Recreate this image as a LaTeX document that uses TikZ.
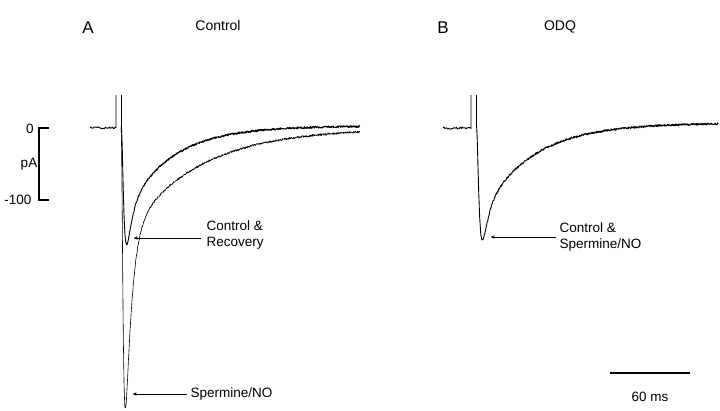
\documentclass[tikz,border=0pt]{standalone}
\usepackage{fontspec}
\setmainfont{Liberation Sans}
\usetikzlibrary{arrows}

\begin{document}
\begin{tikzpicture}[x=1pt,y=-1pt,
  lbl/.style={font=\fontsize{13.5}{16}\selectfont, align=left},
  trace/.style={line width=0.6pt, line join=round},
  pointer/.style={->, >=stealth', thin}]
\useasboundingbox (0,0) rectangle (720,410);

% Panel letters and titles
\node[font=\fontsize{17}{19}\selectfont] (pa) at (88,28) {A};
\node[lbl, font=\fontsize{14}{16}\selectfont] (ta) at (218,25) {Control};
\node[font=\fontsize{17}{19}\selectfont] (pb) at (443,28) {B};
\node[lbl, font=\fontsize{14}{16}\selectfont] (tb) at (560,27) {ODQ};

% Current scale bar
\draw[line width=1.6pt] (49,128) -- (39,128) -- (39,200) -- (49,200);
\node[lbl] (zero) at (30,129) {0};
\node[lbl] (pa1) at (29,164) {pA};
\node[lbl] (hund) at (18,200) {-100};

% Time scale bar
\draw[line width=1.6pt] (610,373) -- (690,373);
\node[lbl] (ms) at (650,397) {60 ms};

% Panel A traces
\draw[trace, line width=0.9pt] plot[domain=90:116, samples=30] (\x,{128+1.2*rand}) -- (116,95);
\draw[trace] (121,95) -- (121,128);
\draw[trace] plot[domain=121:360, samples=700]
  (\x,{128 + 578*(1-exp(-(\x-121)/1.5))^3*(0.8*exp(-(\x-121)/6)+0.2*exp(-(\x-121)/70)) + 1.0*rand});
\draw[trace, line width=0.9pt] plot[domain=121:360, samples=700]
  (\x,{126 + 274*(1-exp(-(\x-121)/2))^3*(0.65*exp(-(\x-121)/5)+0.35*exp(-(\x-121)/45)) + 1.0*rand});

% Panel B traces
\draw[trace, line width=0.9pt] plot[domain=443:471, samples=30] (\x,{128+1.2*rand}) -- (471,95);
\draw[trace] (476,95) -- (476,128);
\draw[trace, line width=0.9pt] plot[domain=476:718, samples=700]
  (\x,{123 + 291*(1-exp(-(\x-476)/2.3))^3*(0.65*exp(-(\x-476)/5)+0.35*exp(-(\x-476)/50)) + 1.0*rand});

% Labels with pointers
\node[lbl, anchor=west] (ctlrec) at (203,235) {Control \&\\Recovery};
\coordinate (ctltip) at (134,238);
\draw[pointer] (ctlrec.west) ++(-2,3) -- (ctltip);
\node[lbl, anchor=west] (spno) at (187,394) {Spermine/NO};
\coordinate (sptip) at (133,394);
\draw[pointer] (spno.west) -- (sptip);
\node[lbl, anchor=west] (ctlsp) at (556,237) {Control \&\\Spermine/NO};
\coordinate (bptip) at (491,237);
\draw[pointer] (ctlsp.west) -- (bptip);
\end{tikzpicture}
\end{document}
